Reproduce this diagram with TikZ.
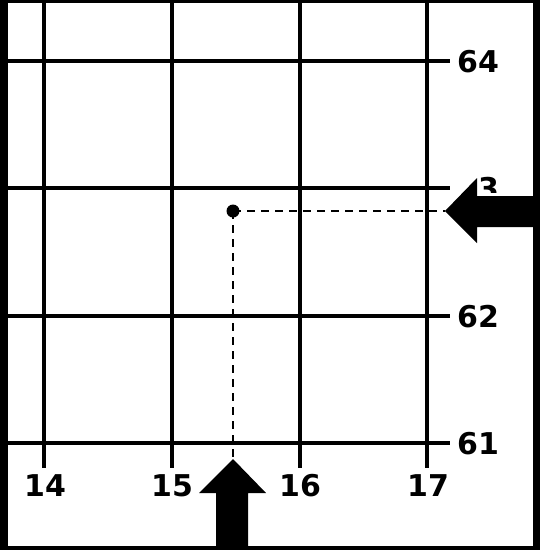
\documentclass[tikz,border=0pt]{standalone}
\usepackage{fontspec}
\setmainfont{DejaVu Sans}
\begin{document}
\begin{tikzpicture}[x=1pt,y=-1pt,
  grid/.style={line width=3.2pt,black},
  lbl/.style={inner sep=0pt,font=\fontsize{30}{30}\selectfont\bfseries},
  guide/.style={line width=2pt,dash pattern=on 8pt off 6pt},
  bigarrow/.style={fill=black}]
\useasboundingbox (0,0) rectangle (540,550);
% frame
\fill[black] (0,0) rectangle (540,550);
\fill[white] (8,3) rectangle (533,546);
% grid
\foreach \x in {44,172,300,427} \draw[grid] (\x,3) -- (\x,468);
\foreach \y in {61,188,316,443} \draw[grid] (8,\y) -- (450,\y);
% labels
\node[lbl,anchor=west] (n64) at (457,62) {64};
\begin{scope}
\clip (477,170) rectangle (505,192);
\node[lbl,anchor=west] (n63) at (457,189) {63};
\end{scope}
\node[lbl,anchor=west] (n62) at (457,317) {62};
\node[lbl,anchor=west] (n61) at (457,444) {61};
\node[lbl] (e14) at (45,486) {14};
\node[lbl] (e15) at (172,486) {15};
\node[lbl] (e16) at (300,486) {16};
\node[lbl] (e17) at (428,486) {17};
% point and guides
\node[circle,fill=black,inner sep=0pt,minimum size=13pt] (pt) at (233,211) {};
\coordinate (rtip) at (445,211);
\coordinate (btip) at (233,459);
\draw[guide] (pt.center) -- (rtip);
\draw[guide] (pt.center) -- (btip);
% arrows
\fill[bigarrow] (rtip) -- (477,178) -- (477,196) -- (540,196) -- (540,227) -- (477,227) -- (477,243) -- cycle;
\fill[bigarrow] (btip) -- (266,493) -- (248,493) -- (248,550) -- (216,550) -- (216,493) -- (199,493) -- cycle;
\end{tikzpicture}
\end{document}
